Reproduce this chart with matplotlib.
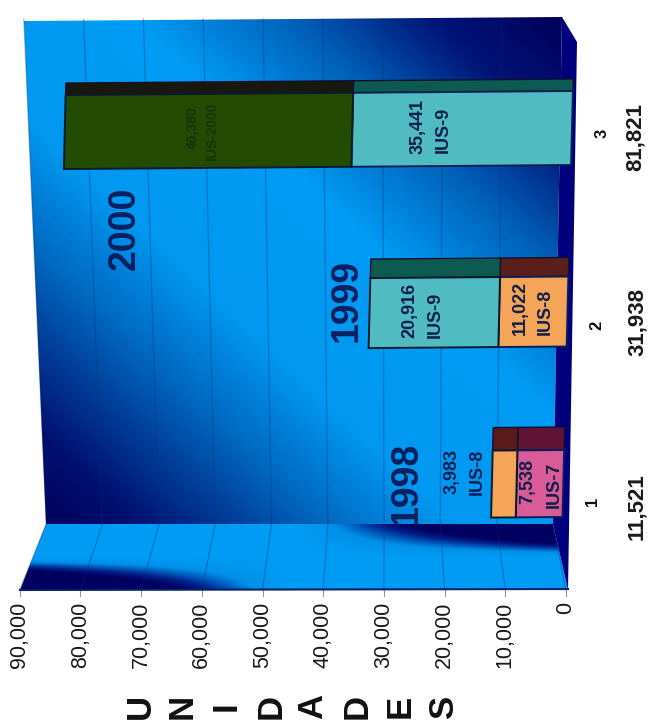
import numpy as np
import matplotlib
matplotlib.use('Agg')
import matplotlib.pyplot as plt
from matplotlib.colors import LinearSegmentedColormap
from matplotlib.patches import Polygon
from matplotlib.transforms import Affine2D

plt.rcParams['font.family'] = ['Liberation Sans', 'DejaVu Sans']

# unidades por anio
categories = ['1', '2', '3']
years = ['1998', '1999', '2000']
totals = ['11,521', '31,938', '81,821']
lower_values = [7538, 11022, 35441]
upper_values = [3983, 20916, 46380]
lower_names = ['IUS-7', 'IUS-8', 'IUS-9']
upper_names = ['IUS-8', 'IUS-9', 'IUS-2000']
axis_values = [0, 10000, 20000, 30000, 40000, 50000, 60000, 70000, 80000, 90000]
axis_title = 'UNIDADES'

# colores de cada tramo y de su cara superior
lower_colors = ['#d95c98', '#f5a558', '#50bcc2']
lower_tops = ['#5e1432', '#5a1f1a', '#0d5a50']
upper_colors = ['#f5a558', '#50bcc2', '#234b02']
upper_tops = ['#5a1a1a', '#0d5a50', '#18180f']

# barras en pixeles de la pagina (eje y invertido)
bar_y = [483.5, 311.5, 128]
bar_h = [67, 70, 74]
top_h = [23, 19, 12]
NAVY = '#0a1f55'

fig = plt.figure(figsize=(6.48, 7.2), dpi=100, facecolor='white')

bg = fig.add_axes([0, 0, 1, 1])
bg.set_xlim(0, 648)
bg.set_ylim(720, 0)
bg.axis('off')

wall_cmap = LinearSegmentedColormap.from_list('wall', [
    (0.00, '#00005a'), (0.10, '#000f6e'), (0.28, '#0068c0'), (0.40, '#0098f0'),
    (0.60, '#009cf5'), (0.75, '#0060b8'), (0.88, '#001478'), (1.00, '#00005a')])
strip_cmap = LinearSegmentedColormap.from_list('strip', [
    (0.0, '#009cf5'), (0.35, '#0090e8'), (0.75, '#00208a'), (1.0, '#000060')])

# pared del fondo
xx, yy = np.meshgrid(np.linspace(0, 1, 300), np.linspace(0, 1, 300))
wall = bg.imshow((xx - yy + 1) / 2, extent=(24, 562, 524, 17), cmap=wall_cmap,
                 vmin=0, vmax=1, aspect='auto', zorder=1)
wall.set_clip_path(Polygon([(24, 21), (562, 17), (553, 524), (46, 524)], transform=bg.transData))

# pared lateral
dark = np.clip((yy - 0.5) * (1 - 2 * xx) * 5, 0, 1)
strip = bg.imshow(dark, extent=(20, 568, 590, 524), cmap=strip_cmap,
                  vmin=0, vmax=1, aspect='auto', zorder=1)
strip.set_clip_path(Polygon([(46, 524), (553, 524), (568, 590), (20, 590)], transform=bg.transData))

# piso
bg.add_patch(Polygon([(562, 17), (577, 42), (568, 590), (553, 524)], closed=True,
                     facecolor='#00007e', edgecolor='none', zorder=2))
bg.plot([20, 568], [590, 589], color='#04246e', lw=1.5, zorder=3)
bg.set_xlim(0, 648)
bg.set_ylim(720, 0)

# lineas de division y marcas del eje
for v in axis_values:
    top_x = 562 - 59.8e-4 * v
    mid_x = 553 - 56.3e-4 * v
    front_x = 566 - 60.7e-4 * v
    if v > 0:
        bg.plot([top_x, mid_x], [19, 524], color='#00307f', alpha=0.35, lw=0.9, zorder=2)
    bg.plot([mid_x, front_x], [524, 590], color='#00307f', alpha=0.35, lw=0.9, zorder=2)
    bg.plot([front_x, front_x], [590, 596], color='#999999', lw=0.8, zorder=2)
    bg.text(front_x, 602, f'{v:,}', rotation=90, ha='center', va='top',
            fontsize=15.5, color='#1a1a1a', zorder=5)

title_x = [140, 182, 226, 271, 313, 357, 400, 443]
for letter, lx in zip(axis_title, title_x):
    bg.text(lx, 706, letter, rotation=90, ha='center', va='center', fontsize=25,
            fontweight='bold', color='#111111')

# barras: escala propia, con la hoja un poco torcida
ax = fig.add_axes([0, 0, 1, 1], facecolor='none')
scale = 0.0062
ax.set_xlim(572 / scale, -76 / scale)
ax.set_ylim(720, 0)
ax.axis('off')
shear = Affine2D.from_values(1, 0.008, 0.0245, 1, -14.5, -4.58)
tr = ax.transData + shear

for i in range(3):
    low = lower_values[i]
    up = upper_values[i]
    top_y = bar_y[i] - bar_h[i] / 2 - top_h[i] / 2
    ax.barh(top_y, low, left=0, height=top_h[i], color=lower_tops[i],
            edgecolor='#101030', lw=1, transform=tr, zorder=3)
    ax.barh(top_y, up, left=low, height=top_h[i], color=upper_tops[i],
            edgecolor='#101030', lw=1, transform=tr, zorder=3)
    ax.barh(bar_y[i], low, left=0, height=bar_h[i], color=lower_colors[i],
            edgecolor=NAVY, lw=1.4, transform=tr, zorder=4)
    ax.barh(bar_y[i], up, left=low, height=bar_h[i], color=upper_colors[i],
            edgecolor='#0a1a30', lw=1.4, transform=tr, zorder=4)

# rotulos de cada tramo
low_val_pos = [(528, 482), (520, 308), (418, 127)]
low_name_pos = [(554, 485), (545, 312), (443, 130)]
up_val_pos = [(452, 472), (410, 310), (192, 128)]
up_name_pos = [(477, 472), (435, 315), (212, 132)]
up_label_size = [13, 13, 10]
up_label_color = [NAVY, '#10204a', '#16340c']

for i in range(3):
    for pos, txt in ((low_val_pos[i], f'{lower_values[i]:,}'), (low_name_pos[i], lower_names[i])):
        fig.text(pos[0] / 648, 1 - pos[1] / 720, txt, rotation=90, ha='center', va='center',
                 fontweight='bold', fontsize=13, color='#10204a', zorder=6)
    for pos, txt in ((up_val_pos[i], f'{upper_values[i]:,}'), (up_name_pos[i], upper_names[i])):
        fig.text(pos[0] / 648, 1 - pos[1] / 720, txt, rotation=90, ha='center', va='center',
                 fontweight='bold', fontsize=up_label_size[i], color=up_label_color[i], zorder=6)

# anio sobre cada barra
year_pos = [(407, 483), (347, 300), (125, 228)]
for txt, pos in zip(years, year_pos):
    fig.text(pos[0] / 648, 1 - pos[1] / 720, txt, rotation=90, ha='center', va='center',
             fontweight='bold', fontsize=27, color='#0a2060', zorder=6)

# categoria y total
cat_pos = [(592, 501), (597, 325), (602, 133)]
total_pos = [(637, 507), (637, 322), (635, 137)]
for i in range(3):
    fig.text(cat_pos[i][0] / 648, 1 - cat_pos[i][1] / 720, categories[i], rotation=90,
             ha='center', va='center', fontweight='bold', fontsize=12, color='#111111')
    fig.text(total_pos[i][0] / 648, 1 - total_pos[i][1] / 720, totals[i], rotation=90,
             ha='center', va='center', fontweight='bold', fontsize=16, color='#1a1a1a')

fig.savefig('out.png', dpi=100)
